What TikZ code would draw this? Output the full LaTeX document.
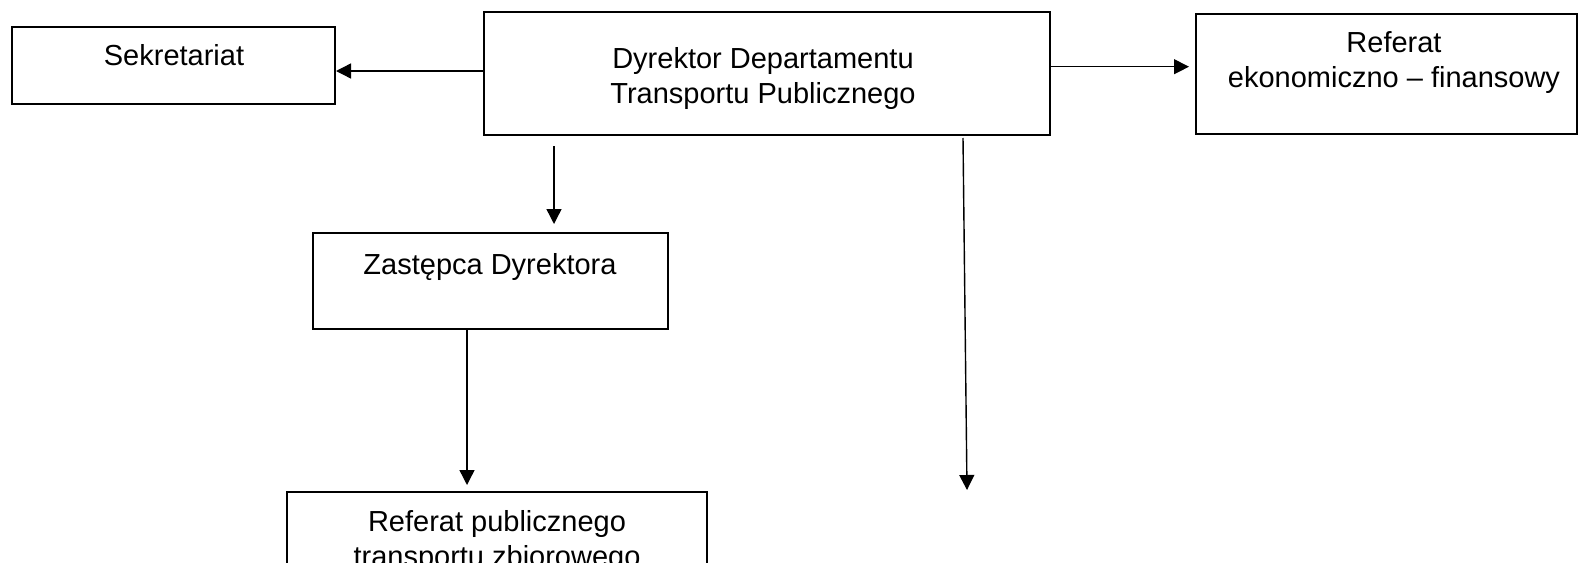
\documentclass[tikz,border=0pt]{standalone}
\usepackage{fontspec}
\setmainfont{Liberation Sans}
\usetikzlibrary{arrows.meta}

\begin{document}
\begin{tikzpicture}[x=0.5pt,y=-0.5pt,
  box/.style={draw,line width=1pt,inner sep=0pt},
  lbl/.style={align=center,inner sep=0pt,font=\fontsize{14.5}{17.5}\selectfont},
  arr/.style={-{Triangle[length=7.5pt,width=7.5pt]},line width=0.7pt}]
\useasboundingbox (0,0) rectangle (1578,562);
\clip (0,0) rectangle (1578,562);
\node[box,minimum width=161.5pt,minimum height=38.5pt] (sek) at (173.5,65.5) {};
\node[box,minimum width=283pt,minimum height=61.5pt] (dyr) at (767,73.5) {};
\node[box,minimum width=190.5pt,minimum height=60pt] (ref) at (1386.5,74) {};
\node[box,minimum width=177.5pt,minimum height=48pt] (zas) at (490.5,281) {};
\node[box,minimum width=210pt,minimum height=65pt] (pub) at (497,557) {};
\node[lbl] (sekT) at (174,55) {Sekretariat};
\node[lbl] (dyrT) at (763,78.5) {Dyrektor Departamentu\\Transportu Publicznego};
\node[lbl] (refT) at (1394,63) {Referat\\ekonomiczno – finansowy};
\node[lbl] (zasT) at (490,267) {Zastępca Dyrektora};
\node[lbl] (pubT) at (497,541) {Referat publicznego\\transportu zbiorowego};
\coordinate (dyrA) at ([xshift=35.5pt,yshift=-5pt]dyr.south west);
\coordinate (dyrB) at ([xshift=240pt,yshift=-1pt]dyr.south west);
\coordinate (zasA) at ([xshift=-11.75pt]zas.south);
\coordinate (wolny) at (967,490);
\draw[arr] ([yshift=1.25pt]dyr.west) -- ([yshift=1.25pt]dyr.west -| sek.east);
\draw[arr,line width=0.5pt,shorten >=3pt] ([yshift=3.4pt]dyr.east) -- ([yshift=3.4pt]dyr.east -| ref.west);
\draw[arr,shorten >=4pt] (dyrA) -- (dyrA |- zas.north);
\draw[arr,shorten >=3pt] (zasA) -- (zasA |- pub.north);
\draw[arr] (dyrB) -- (wolny);
\end{tikzpicture}
\end{document}
